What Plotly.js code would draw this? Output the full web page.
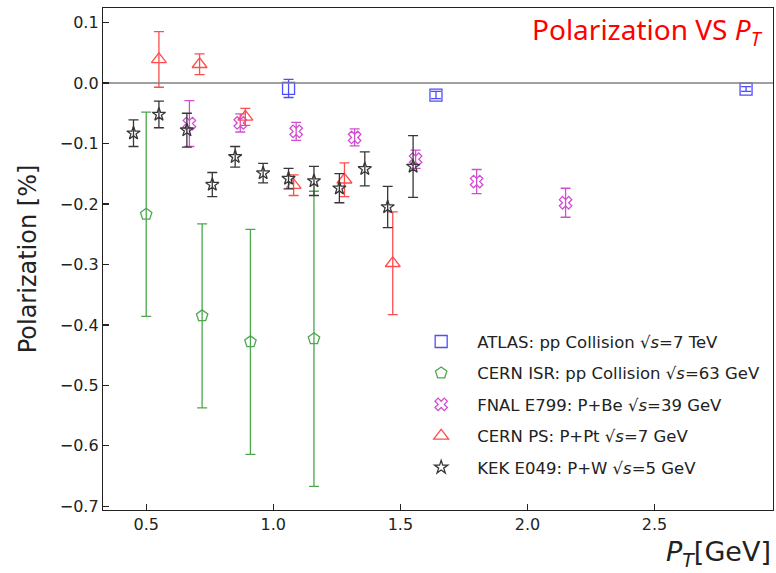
<!DOCTYPE html>
<html><head><meta charset="utf-8">
<script src="https://cdn.plot.ly/plotly-3.0.1.min.js"></script>
<style>body{margin:0;padding:0;background:#fff}#chart{width:776px;height:573px}</style>
</head><body><div id="chart"></div>
<script>
// ATLAS
const atlasX = [1.06, 1.64, 2.86];
const atlasY = [-0.009, -0.020, -0.010];
const atlasErr = [0.015, 0.006, 0.004];
// CERN ISR
const isrX = [0.50, 0.72, 0.91, 1.16];
const isrY = [-0.217, -0.385, -0.428, -0.423];
const isrErr = [0.169, 0.152, 0.186, 0.244];
// FNAL E799
const fnalX = [0.67, 0.87, 1.09, 1.32, 1.56, 1.80, 2.15];
const fnalY = [-0.067, -0.066, -0.080, -0.090, -0.126, -0.163, -0.198];
const fnalErr = [0.038, 0.015, 0.015, 0.014, 0.015, 0.020, 0.024];
// CERN PS
const psX = [0.55, 0.71, 0.89, 1.08, 1.28, 1.47];
const psY = [0.039, 0.031, -0.056, -0.169, -0.160, -0.298];
const psErr = [0.046, 0.017, 0.014, 0.017, 0.028, 0.085];
// KEK E049
const kekX = [0.45, 0.55, 0.66, 0.76, 0.85, 0.96, 1.06, 1.16, 1.26, 1.36, 1.45, 1.55];
const kekY = [-0.083, -0.052, -0.078, -0.168, -0.122, -0.149, -0.158, -0.162, -0.174, -0.142, -0.205, -0.138];
const kekErr = [0.022, 0.022, 0.028, 0.020, 0.017, 0.016, 0.017, 0.024, 0.024, 0.028, 0.034, 0.051];

const names = [
  'ATLAS: pp Collision √<i>s</i>=7 TeV',
  'CERN ISR: pp Collision √<i>s</i>=63 GeV',
  'FNAL E799: P+Be √<i>s</i>=39 GeV',
  'CERN PS: P+Pt √<i>s</i>=7 GeV',
  'KEK E049: P+W √<i>s</i>=5 GeV'
];
const xTicks = [0.5, 1.0, 1.5, 2.0, 2.5];
const xTickText = ['0.5', '1.0', '1.5', '2.0', '2.5'];
const yTicks = [0.1, 0, -0.1, -0.2, -0.3, -0.4, -0.5, -0.6, -0.7];
const yTickText = ['0.1', '0.0', '−0.1', '−0.2', '−0.3', '−0.4', '−0.5', '−0.6', '−0.7'];
const xRange = [0.33, 2.966];
const yRange = [-0.706, 0.124];

function tr(x, y, e, name, color, symbol, size, g) {
  return {
    type: 'scatter', mode: 'markers', x: x, y: y, name: name, legendgroup: g,
    marker: {symbol: symbol, size: size, color: color, line: {color: color, width: 1.3}},
    error_y: {type: 'data', array: e, visible: true, color: color, thickness: 1.3, width: 5}
  };
}
const data = [
  tr(atlasX, atlasY, atlasErr, names[0], 'rgb(77,77,255)', 'square-open', 12, 'a'),
  tr(isrX, isrY, isrErr, names[1], 'rgb(77,166,77)', 'pentagon-open', 12, 'b'),
  tr(fnalX, fnalY, fnalErr, names[2], 'rgb(210,77,210)', 'x-open', 11, 'c'),
  tr(psX, psY, psErr, names[3], 'rgb(255,77,77)', 'triangle-up-open', 13, 'd'),
  tr(kekX, kekY, kekErr, names[4], 'rgb(55,55,55)', 'star-open', 10, 'e'),
  {type: 'scatter', mode: 'lines', x: xRange, y: [0, 0], showlegend: false, hoverinfo: 'skip',
   line: {color: 'rgb(128,128,128)', width: 1.5}}
];
const axisCommon = {
  showgrid: false, zeroline: false, showline: true, mirror: true, linecolor: '#222', linewidth: 1.2,
  ticks: 'inside', ticklen: 6, tickwidth: 1.2, tickcolor: '#222',
  tickfont: {family: 'DejaVu Sans', size: 16, color: '#222'}
};
const layout = {
  width: 776, height: 573,
  margin: {l: 103, r: 3, t: 8, b: 63},
  paper_bgcolor: '#fff', plot_bgcolor: '#fff',
  showlegend: true,
  legend: {x: 0.451, y: 0.37, xanchor: 'left', yanchor: 'top', bgcolor: 'rgba(0,0,0,0)',
           font: {family: 'DejaVu Sans', size: 16.5, color: '#222'}, tracegroupgap: 7, itemwidth: 62},
  xaxis: Object.assign({}, axisCommon, {range: xRange, tickvals: xTicks, ticktext: xTickText}),
  yaxis: Object.assign({}, axisCommon, {range: yRange, tickvals: yTicks, ticktext: yTickText,
    title: {text: 'Polarization [%]', font: {family: 'DejaVu Sans', size: 24, color: '#222'}, standoff: 16}}),
  annotations: [
    {xref: 'paper', yref: 'paper', x: 0.988, y: 1.0, xanchor: 'right', yanchor: 'top', showarrow: false,
     text: 'Polarization VS <i>P</i><sub><i>T</i></sub>', font: {family: 'Noto Sans', size: 28, color: 'red'}},
    {xref: 'paper', yref: 'paper', x: 1.0, y: -0.086, xanchor: 'right', yanchor: 'middle', showarrow: false,
     text: '<i>P</i><sub><i>T</i></sub>[GeV]', font: {family: 'DejaVu Sans', size: 27, color: '#222'}}
  ]
};
Plotly.newPlot('chart', data, layout, {displayModeBar: false, staticPlot: true});
</script></body></html>
